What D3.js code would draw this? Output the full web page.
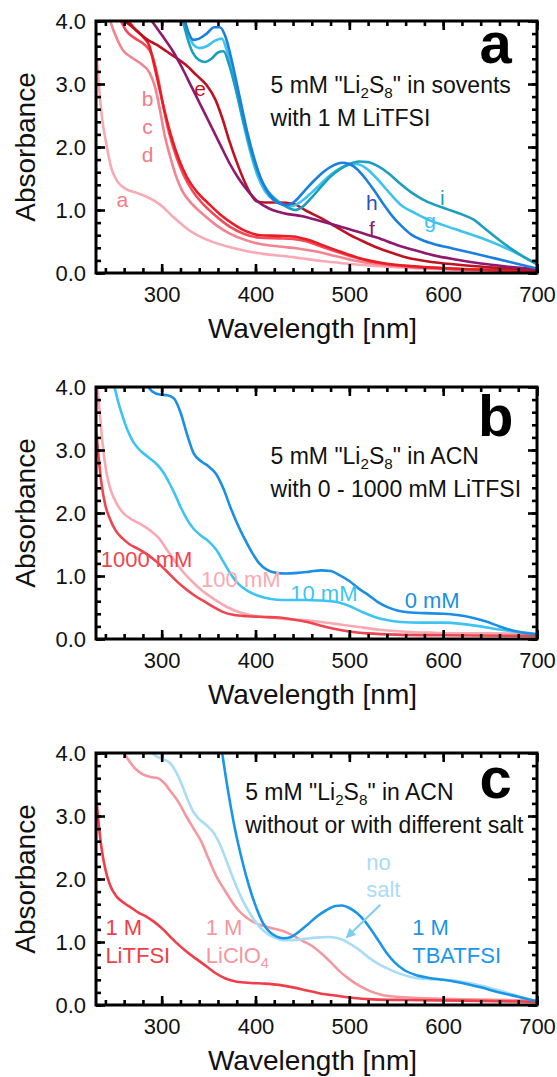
<!DOCTYPE html>
<html>
<head>
<meta charset="utf-8">
<script src="https://cdn.jsdelivr.net/npm/d3@7"></script>
<style>
  html, body { margin: 0; padding: 0; background: #fff; }
  svg { display: block; }
  text { font-family: "Liberation Sans", Arial, sans-serif; }
</style>
</head>
<body>
<svg id="chart" width="557" height="1077"></svg>
<script>
// ── Axes ─────────────────────────────────────────────────────────────────
const xDomain = [230, 700];
const yDomain = [0, 4];
const xMajorTicks = [300, 400, 500, 600, 700];
const yMajorTicks = [0, 1, 2, 3, 4];
const xMinorTicks = d3.range(240, 701, 20);
const yMinorTicks = d3.range(0, 4.01, 0.2);

// ── Panel a: solvents with 1 M LiTFSI  [nm, absorbance] ─────────────────
const aCurveA = [[230,3.62],[233,3.0],[237,2.4],[241,2.05],[246,1.68],[253,1.45],[262,1.33],[272,1.28],[284,1.21],[294,1.13],[302,1.04],[310,0.92],[320,0.79],[330,0.67],[342,0.57],[355,0.49],[370,0.42],[390,0.35],[410,0.3],[430,0.27],[450,0.23],[470,0.19],[490,0.16],[510,0.13],[540,0.1],[580,0.07],[620,0.05],[660,0.03],[700,0.02]];
const aCurveB = [[244,4.05],[250,3.8],[258,3.55],[268,3.42],[278,3.32],[287,3.18],[293,2.95],[298,2.6],[303,2.2],[309,1.85],[315,1.55],[322,1.3],[332,1.1],[345,0.92],[358,0.76],[372,0.63],[388,0.53],[405,0.46],[425,0.42],[445,0.39],[465,0.34],[485,0.27],[505,0.2],[530,0.14],[560,0.1],[600,0.07],[650,0.05],[700,0.03]];
const aCurveC = [[255,4.05],[262,3.85],[272,3.72],[282,3.62],[290,3.45],[296,3.1],[302,2.62],[308,2.22],[315,1.87],[323,1.57],[333,1.3],[345,1.08],[358,0.9],[372,0.74],[388,0.62],[405,0.56],[425,0.55],[440,0.54],[455,0.5],[470,0.42],[490,0.32],[510,0.23],[535,0.15],[565,0.1],[600,0.07],[650,0.05],[700,0.03]];
const aCurveD = [[262,4.05],[270,3.9],[280,3.75],[287,3.6],[292,3.3],[297,2.97],[303,2.58],[310,2.18],[318,1.82],[327,1.52],[338,1.28],[350,1.1],[363,0.92],[378,0.76],[392,0.65],[405,0.6],[425,0.59],[440,0.58],[455,0.53],[470,0.45],[490,0.34],[510,0.24],[535,0.16],[565,0.11],[600,0.08],[650,0.05],[700,0.03]];
const aCurveE = [[255,4.05],[265,3.95],[275,3.82],[285,3.7],[295,3.62],[305,3.52],[315,3.42],[326,3.3],[337,3.14],[348,2.98],[357,2.76],[365,2.44],[372,2.1],[380,1.76],[388,1.46],[395,1.25],[401,1.14],[410,1.12],[425,1.12],[440,1.1],[455,0.98],[470,0.87],[485,0.74],[500,0.61],[515,0.5],[530,0.4],[545,0.32],[560,0.25],[590,0.17],[625,0.12],[660,0.08],[700,0.04]];
const aCurveF = [[287,4.05],[300,3.78],[312,3.52],[322,3.25],[332,2.95],[342,2.65],[352,2.35],[362,2.05],[372,1.75],[382,1.5],[392,1.3],[402,1.14],[415,1.02],[430,0.95],[450,0.9],[470,0.82],[490,0.74],[510,0.65],[530,0.56],[550,0.45],[570,0.36],[590,0.28],[615,0.21],[640,0.15],[670,0.1],[700,0.06]];
const aCurveG = [[322,4.05],[328,3.8],[334,3.62],[340,3.57],[348,3.6],[356,3.68],[364,3.72],[370,3.5],[378,3.0],[386,2.45],[394,1.95],[402,1.55],[410,1.3],[420,1.15],[430,1.08],[438,1.06],[450,1.15],[460,1.28],[470,1.42],[480,1.56],[490,1.66],[500,1.72],[508,1.73],[518,1.66],[528,1.52],[540,1.32],[555,1.08],[570,0.95],[585,0.84],[600,0.76],[620,0.66],[640,0.56],[660,0.44],[680,0.3],[700,0.14]];
const aCurveH = [[324,4.05],[329,3.8],[334,3.7],[340,3.72],[348,3.8],[356,3.9],[362,3.9],[368,3.75],[375,3.35],[383,2.8],[391,2.25],[399,1.8],[407,1.45],[416,1.22],[426,1.1],[434,1.08],[442,1.14],[452,1.3],[462,1.46],[472,1.6],[482,1.7],[492,1.75],[500,1.73],[508,1.65],[516,1.52],[526,1.32],[536,1.1],[546,0.9],[556,0.74],[566,0.61],[578,0.52],[590,0.46],[610,0.39],[630,0.32],[650,0.25],[670,0.18],[700,0.07]];
const aCurveI = [[322,4.05],[327,3.75],[333,3.5],[340,3.38],[346,3.35],[353,3.4],[360,3.5],[366,3.52],[372,3.3],[380,2.85],[388,2.35],[396,1.9],[404,1.55],[413,1.3],[423,1.15],[433,1.05],[442,1.0],[450,1.05],[460,1.2],[470,1.37],[480,1.53],[490,1.65],[500,1.73],[510,1.77],[520,1.76],[530,1.7],[542,1.58],[554,1.42],[566,1.28],[578,1.17],[590,1.09],[605,1.01],[620,0.93],[632,0.85],[645,0.7],[660,0.52],[675,0.36],[690,0.22],[700,0.14]];

// ── Panel b: ACN with 0 - 1000 mM LiTFSI ─────────────────────────────────
const b0mM = [[283,4.05],[290,3.93],[298,3.88],[306,3.87],[313,3.82],[320,3.6],[327,3.25],[334,2.95],[342,2.82],[350,2.74],[358,2.62],[366,2.38],[373,2.1],[380,1.85],[388,1.6],[396,1.38],[404,1.2],[412,1.1],[422,1.05],[432,1.04],[445,1.05],[458,1.07],[470,1.09],[480,1.08],[490,1.01],[500,0.92],[510,0.8],[520,0.7],[530,0.59],[540,0.51],[552,0.45],[565,0.42],[580,0.41],[600,0.4],[615,0.38],[630,0.34],[645,0.28],[660,0.2],[675,0.13],[690,0.09],[700,0.07]];
const b10mM = [[249,4.05],[253,3.8],[258,3.55],[264,3.3],[270,3.12],[278,2.98],[287,2.87],[295,2.77],[302,2.64],[308,2.48],[314,2.3],[320,2.1],[327,1.9],[334,1.75],[342,1.64],[350,1.55],[358,1.42],[366,1.22],[374,1.02],[382,0.87],[392,0.76],[402,0.69],[415,0.64],[430,0.62],[450,0.62],[470,0.61],[485,0.59],[495,0.55],[505,0.49],[515,0.42],[527,0.35],[540,0.3],[555,0.27],[575,0.26],[600,0.26],[620,0.24],[640,0.2],[660,0.15],[680,0.11],[700,0.08]];
const b100mM = [[231,4.05],[234,3.6],[237,3.1],[241,2.65],[246,2.35],[252,2.15],[259,2.0],[268,1.9],[278,1.82],[288,1.72],[297,1.6],[305,1.43],[313,1.26],[322,1.08],[332,0.92],[342,0.78],[355,0.64],[368,0.52],[382,0.43],[398,0.37],[415,0.34],[430,0.32],[450,0.3],[470,0.27],[490,0.23],[510,0.19],[530,0.15],[555,0.12],[590,0.1],[640,0.09],[700,0.08]];
const b1000mM = [[230,3.38],[233,2.85],[236,2.45],[240,2.12],[245,1.9],[251,1.72],[258,1.6],[266,1.5],[275,1.43],[285,1.34],[295,1.22],[305,1.08],[315,0.93],[325,0.8],[335,0.69],[345,0.6],[355,0.51],[365,0.43],[377,0.38],[392,0.36],[410,0.35],[425,0.34],[440,0.31],[455,0.27],[470,0.21],[485,0.16],[500,0.12],[520,0.09],[550,0.07],[600,0.06],[700,0.05]];

// ── Panel c: ACN without or with different salt ──────────────────────────
const cLiTFSI = [[230,3.36],[233,2.85],[236,2.48],[240,2.15],[245,1.9],[252,1.72],[260,1.62],[268,1.54],[276,1.46],[284,1.4],[292,1.32],[300,1.22],[308,1.1],[317,0.97],[327,0.84],[338,0.72],[348,0.61],[358,0.5],[368,0.42],[380,0.37],[395,0.35],[410,0.34],[425,0.32],[440,0.28],[455,0.23],[470,0.18],[485,0.15],[500,0.12],[525,0.09],[560,0.08],[620,0.07],[700,0.05]];
const cLiClO4 = [[258,4.05],[265,3.88],[272,3.75],[280,3.66],[288,3.62],[296,3.6],[303,3.52],[310,3.38],[318,3.22],[326,3.0],[334,2.8],[342,2.6],[350,2.32],[358,2.05],[366,1.85],[374,1.66],[382,1.5],[391,1.38],[400,1.3],[410,1.25],[420,1.21],[430,1.17],[440,1.1],[450,1.02],[460,0.94],[470,0.82],[480,0.68],[490,0.53],[500,0.41],[510,0.31],[522,0.22],[535,0.16],[550,0.13],[575,0.11],[620,0.09],[700,0.07]];
const cNoSalt = [[287,4.05],[294,3.95],[302,3.9],[309,3.84],[316,3.68],[322,3.48],[328,3.25],[334,3.06],[340,2.95],[348,2.85],[356,2.72],[363,2.52],[370,2.25],[377,1.98],[385,1.7],[393,1.48],[401,1.3],[410,1.16],[420,1.07],[430,1.03],[440,1.03],[452,1.05],[465,1.07],[478,1.08],[490,1.05],[500,0.98],[510,0.88],[520,0.76],[530,0.66],[542,0.57],[555,0.49],[570,0.43],[585,0.41],[600,0.4],[620,0.37],[640,0.31],[660,0.23],[680,0.14],[700,0.05]];
const cTBATFSI = [[364,4.05],[368,3.65],[373,3.2],[378,2.8],[384,2.4],[390,2.05],[396,1.75],[402,1.5],[408,1.3],[415,1.16],[422,1.09],[430,1.06],[438,1.08],[446,1.16],[455,1.27],[465,1.4],[475,1.5],[485,1.57],[492,1.58],[500,1.54],[508,1.46],[516,1.34],[524,1.18],[532,1.0],[540,0.82],[548,0.68],[558,0.56],[570,0.48],[585,0.43],[600,0.4],[620,0.35],[640,0.28],[660,0.2],[680,0.13],[700,0.06]];

// ── Series tables (drawn in order) ───────────────────────────────────────
const panels = [
  {
    letter: 'a', letterAt: [656, 3.33],
    note: [['5 mM "Li', '2', 'S', '8', '" in sovents'], ['with 1 M LiTFSI']], noteAt: [416, 2.86],
    series: [
      { data: aCurveA, color: '#f8aab4' },
      { data: aCurveB, color: '#f3848f' },
      { data: aCurveC, color: '#f24a58' },
      { data: aCurveD, color: '#ec1c24' },
      { data: aCurveE, color: '#be1220' },
      { data: aCurveF, color: '#8d1a6d' },
      { data: aCurveG, color: '#3ec3f1' },
      { data: aCurveI, color: '#1a9fbd' },
      { data: aCurveH, color: '#1a7fe0' }
    ],
    labels: [
      { text: 'a', at: [258, 1.17], color: '#f27c87' },
      { text: 'b', at: [285, 2.77], color: '#f27c87' },
      { text: 'c', at: [285, 2.33], color: '#f27c87' },
      { text: 'd', at: [285, 1.88], color: '#f27c87' },
      { text: 'e', at: [341, 2.93], color: '#c8101e' },
      { text: 'f', at: [524, 0.71], color: '#8d1a6d' },
      { text: 'g', at: [586, 0.83], color: '#3ec3f1' },
      { text: 'h', at: [524, 1.12], color: '#2a50c0' },
      { text: 'i', at: [599, 1.2], color: '#1a9fbd' }
    ]
  },
  {
    letter: 'b', letterAt: [656, 3.22],
    note: [['5 mM "Li', '2', 'S', '8', '" in ACN'], ['with 0 - 1000 mM LiTFSI']], noteAt: [416, 2.77],
    series: [
      { data: b100mM, color: '#f8a9b1' },
      { data: b1000mM, color: '#f0444f' },
      { data: b10mM, color: '#3ec4f2' },
      { data: b0mM, color: '#1a8fe3' }
    ],
    labels: [
      { text: '1000 mM', at: [235, 1.15], color: '#f0444f', anchor: 'start' },
      { text: '100 mM', at: [342, 0.82], color: '#f8a9b1', anchor: 'start' },
      { text: '10 mM', at: [437, 0.61], color: '#3ec4f2', anchor: 'start' },
      { text: '0 mM', at: [559, 0.49], color: '#1a8fe3', anchor: 'start' }
    ]
  },
  {
    letter: 'c', letterAt: [656, 3.29],
    note: [['5 mM "Li', '2', 'S', '8', '" in ACN'], ['without or with different salt']], noteAt: [389, 3.26],
    series: [
      { data: cLiClO4, color: '#f4979f' },
      { data: cNoSalt, color: '#a9dcf6' },
      { data: cLiTFSI, color: '#ef3e4a' },
      { data: cTBATFSI, color: '#1a96e8' }
    ],
    labels: [
      { text: '1 M', at: [240, 1.11], color: '#ef3e4a', anchor: 'start' },
      { text: 'LiTFSI', at: [240, 0.67], color: '#ef3e4a', anchor: 'start' },
      { text: '1 M', at: [347, 1.11], color: '#f4979f', anchor: 'start' },
      { text: ['LiClO', '4'], at: [347, 0.67], color: '#f4979f', anchor: 'start' },
      { text: 'no', at: [518, 2.15], color: '#a9dcf6', anchor: 'start' },
      { text: 'salt', at: [518, 1.71], color: '#a9dcf6', anchor: 'start' },
      { text: '1 M', at: [567, 1.11], color: '#1a96e8', anchor: 'start' },
      { text: 'TBATFSI', at: [567, 0.67], color: '#1a96e8', anchor: 'start' }
    ],
    arrow: { from: [533, 1.59], to: [497, 1.07], color: '#7fcdf2' }
  }
];

// ── Layout ───────────────────────────────────────────────────────────────
const plotLeft = 96;
const plotW = 441;
const plotH = 252;
const panelTops = [21, 387, 753];

const svg = d3.select('#chart');

svg.append('defs').append('marker')
  .attr('id', 'arrowhead')
  .attr('viewBox', '0 0 10 10')
  .attr('refX', 9).attr('refY', 5)
  .attr('markerWidth', 5).attr('markerHeight', 5)
  .attr('markerUnits', 'strokeWidth')
  .attr('orient', 'auto')
  .append('path')
  .attr('d', 'M0,0 L10,5 L0,10 Z')
  .attr('fill', '#7fcdf2');

const x = d3.scaleLinear().domain(xDomain).range([0, plotW]);
const y = d3.scaleLinear().domain(yDomain).range([plotH, 0]);

const line = d3.line()
  .x(d => x(d[0]))
  .y(d => y(d[1]))
  .curve(d3.curveMonotoneX);

// writes ['5 mM "Li','2','S','8','..'] as text with subscripts
function richText(sel, parts, size) {
  parts.forEach((p, i) => {
    const sub = i % 2 === 1;
    sel.append('tspan')
      .attr('font-size', sub ? size * 0.66 : size)
      .attr('dy', sub ? 5 : (i > 0 ? -5 : 0))
      .text(p);
  });
}

panels.forEach((p, pi) => {
  const g = svg.append('g').attr('transform', `translate(${plotLeft},${panelTops[pi]})`);

  g.append('clipPath').attr('id', `clip-${pi}`)
    .append('rect').attr('width', plotW).attr('height', plotH);

  // curves
  g.append('g').attr('clip-path', `url(#clip-${pi})`)
    .selectAll('path')
    .data(p.series)
    .join('path')
    .attr('d', d => line(d.data))
    .attr('fill', 'none')
    .attr('stroke', d => d.color)
    .attr('stroke-width', 2.6)
    .attr('stroke-linejoin', 'round');

  // inward ticks on all four sides
  const minorLen = 5, majorLen = 9;
  const tickAxes = [
    [d3.axisBottom(x), `translate(0,${plotH})`, xMinorTicks, xMajorTicks],
    [d3.axisTop(x), null, xMinorTicks, xMajorTicks],
    [d3.axisLeft(y), null, yMinorTicks, yMajorTicks],
    [d3.axisRight(y), `translate(${plotW},0)`, yMinorTicks, yMajorTicks]
  ];
  tickAxes.forEach(([axis, tr, minor, major]) => {
    [[minor, minorLen], [major, majorLen]].forEach(([vals, len]) => {
      const ax = g.append('g').attr('transform', tr)
        .call(axis.tickValues(vals).tickSize(-len).tickSizeOuter(0).tickFormat(''));
      ax.select('.domain').remove();
      ax.selectAll('line').attr('stroke', '#000').attr('stroke-width', 2.6);
    });
  });

  // tick labels
  const xl = g.append('g').attr('transform', `translate(0,${plotH})`)
    .call(d3.axisBottom(x).tickValues(xMajorTicks).tickSize(0).tickPadding(13).tickFormat(d3.format('d')));
  const yl = g.append('g')
    .call(d3.axisLeft(y).tickValues(yMajorTicks).tickSize(0).tickPadding(10).tickFormat(d3.format('.1f')));
  [xl, yl].forEach(a => {
    a.select('.domain').remove();
    a.selectAll('text').attr('font-size', 22).attr('fill', '#111')
      .attr('font-family', '"Liberation Sans", Arial, sans-serif');
  });

  // frame
  g.append('rect')
    .attr('width', plotW).attr('height', plotH)
    .attr('fill', 'none').attr('stroke', '#000').attr('stroke-width', 3);

  // axis titles
  g.append('text')
    .attr('transform', `translate(${-61},${plotH / 2}) rotate(-90)`)
    .attr('text-anchor', 'middle')
    .attr('font-size', 28).attr('fill', '#111')
    .text('Absorbance');
  g.append('text')
    .attr('x', plotW / 2 - 4).attr('y', plotH + 65)
    .attr('text-anchor', 'middle')
    .attr('font-size', 28).attr('fill', '#111')
    .text('Wavelength [nm]');

  // panel letter
  g.append('text')
    .attr('x', x(p.letterAt[0])).attr('y', y(p.letterAt[1]))
    .attr('text-anchor', 'middle')
    .attr('font-size', 58).attr('font-weight', 'bold').attr('fill', '#000')
    .text(p.letter);

  // description
  p.note.forEach((parts, li) => {
    const t = g.append('text')
      .attr('x', x(p.noteAt[0])).attr('y', y(p.noteAt[1]) + li * 33)
      .attr('fill', '#111');
    richText(t, parts, 23);
  });

  // curve labels
  p.labels.forEach(l => {
    const t = g.append('text')
      .attr('x', x(l.at[0])).attr('y', y(l.at[1]))
      .attr('text-anchor', l.anchor || 'middle')
      .attr('dominant-baseline', l.anchor ? null : 'central')
      .attr('fill', l.color);
    if (Array.isArray(l.text)) richText(t, l.text, 22);
    else t.attr('font-size', l.anchor ? 22 : 21).text(l.text);
  });

  if (p.arrow) {
    g.append('line')
      .attr('x1', x(p.arrow.from[0])).attr('y1', y(p.arrow.from[1]))
      .attr('x2', x(p.arrow.to[0])).attr('y2', y(p.arrow.to[1]))
      .attr('stroke', p.arrow.color).attr('stroke-width', 2)
      .attr('marker-end', 'url(#arrowhead)');
  }
});
</script>
</body>
</html>
